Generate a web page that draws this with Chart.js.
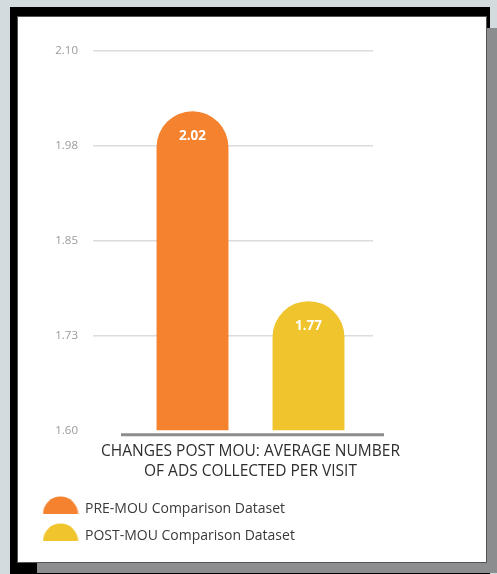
<!DOCTYPE html>
<html>
<head>
<meta charset="utf-8">
<script src="https://cdn.jsdelivr.net/npm/chart.js@4"></script>
<style>
  html, body { margin: 0; padding: 0; }
  body { width: 497px; height: 574px; background: #d3dbde; position: relative; overflow: hidden; }
  .frame { position: absolute; left: 10px; top: 7px; width: 480px; height: 567px; background: #000; }
  .shadow { position: absolute; left: 37px; top: 28px; width: 460px; height: 545px; background: #8c8d8f; }
  .panel { position: absolute; left: 17px; top: 16px; width: 468px; height: 545px; background: #fff; border: 1px solid #555; }
  canvas { display: block; }
</style>
</head>
<body>
<div class="frame"></div>
<div class="shadow"></div>
<div class="panel"><canvas id="chart" width="468" height="545"></canvas></div>
<script>
  // chart data
  const categories = [["CHANGES POST MOU: AVERAGE NUMBER", "OF ADS COLLECTED PER VISIT"]];
  const seriesNames = ["PRE-MOU Comparison Dataset", "POST-MOU Comparison Dataset"];
  const preMou = [2.02];
  const postMou = [1.77];
  const yTickLabels = ["1.60", "1.73", "1.85", "1.98", "2.10"];
  const yMin = 1.6, yMax = 2.1, yStep = 0.125;

  const colors = ["#f5822f", "#efc42d"];

  // half-disc legend markers
  function halfDisc(color) {
    const c = document.createElement("canvas");
    c.width = 36; c.height = 26;
    const g = c.getContext("2d");
    g.fillStyle = color;
    g.beginPath();
    g.arc(18, 18, 17.5, Math.PI, 0);
    g.closePath();
    g.fill();
    return c;
  }

  // dark base line, value labels inside the bar tops
  const decor = {
    id: "decor",
    afterDatasetsDraw(chart) {
      const { ctx, chartArea } = chart;
      const y = chart.scales.y.getPixelForValue(yMin) + 4.5;
      ctx.save();
      ctx.strokeStyle = "#8c8c8c";
      ctx.lineWidth = 3;
      ctx.beginPath();
      ctx.moveTo(chartArea.left - 7, y);
      ctx.lineTo(chartArea.right + 11, y);
      ctx.stroke();

      ctx.fillStyle = "#ffffff";
      ctx.font = "bold 13.5px 'Open Sans', sans-serif";
      ctx.textAlign = "center";
      ctx.textBaseline = "middle";
      chart.data.datasets.forEach((ds, i) => {
        chart.getDatasetMeta(i).data.forEach((bar, j) => {
          ctx.fillText(ds.data[j].toFixed(2), bar.x, bar.y + 25);
        });
      });
      ctx.restore();
    }
  };

  new Chart(document.getElementById("chart"), {
    type: "bar",
    data: {
      labels: categories,
      datasets: [
        { label: seriesNames[0], data: preMou, backgroundColor: colors[0], pointStyle: halfDisc(colors[0]) },
        { label: seriesNames[1], data: postMou, backgroundColor: colors[1], pointStyle: halfDisc(colors[1]) }
      ]
    },
    options: {
      responsive: false,
      animation: false,
      devicePixelRatio: 1,
      layout: { padding: { left: 12, right: 113, top: 33.5, bottom: 9 } },
      datasets: {
        bar: { categoryPercentage: 0.947, barPercentage: 0.62, borderRadius: 40, borderSkipped: "bottom" }
      },
      scales: {
        x: {
          grid: { display: false, drawTicks: false },
          border: { display: false },
          ticks: {
            color: "#2e2e2e",
            font: { family: "'Open Sans', sans-serif", size: 15.5, lineHeight: 1.25 },
            padding: 12,
            maxRotation: 0,
            autoSkip: false
          },
          afterFit(s) { s.height -= 4; }
        },
        y: {
          min: yMin,
          max: yMax,
          border: { display: false },
          grid: {
            color: c => (c.tick && Math.abs(c.tick.value - yMin) < 1e-9 ? "rgba(0,0,0,0)" : "#dcdcdc"),
            lineWidth: 1.5,
            tickLength: 35
          },
          ticks: {
            stepSize: yStep,
            padding: 15,
            color: "#9a9a9a",
            font: { family: "'Open Sans', sans-serif", size: 11.5 },
            callback: (v, i) => yTickLabels[i]
          },
          afterFit(s) { s.width = 98; }
        }
      },
      plugins: {
        tooltip: { enabled: false },
        legend: {
          position: "bottom",
          align: "start",
          labels: {
            usePointStyle: true,
            pointStyleWidth: 35,
            padding: 13,
            color: "#3a3a3a",
            font: { family: "'Open Sans', sans-serif", size: 14 }
          }
        }
      }
    },
    plugins: [decor]
  });
</script>
</body>
</html>
